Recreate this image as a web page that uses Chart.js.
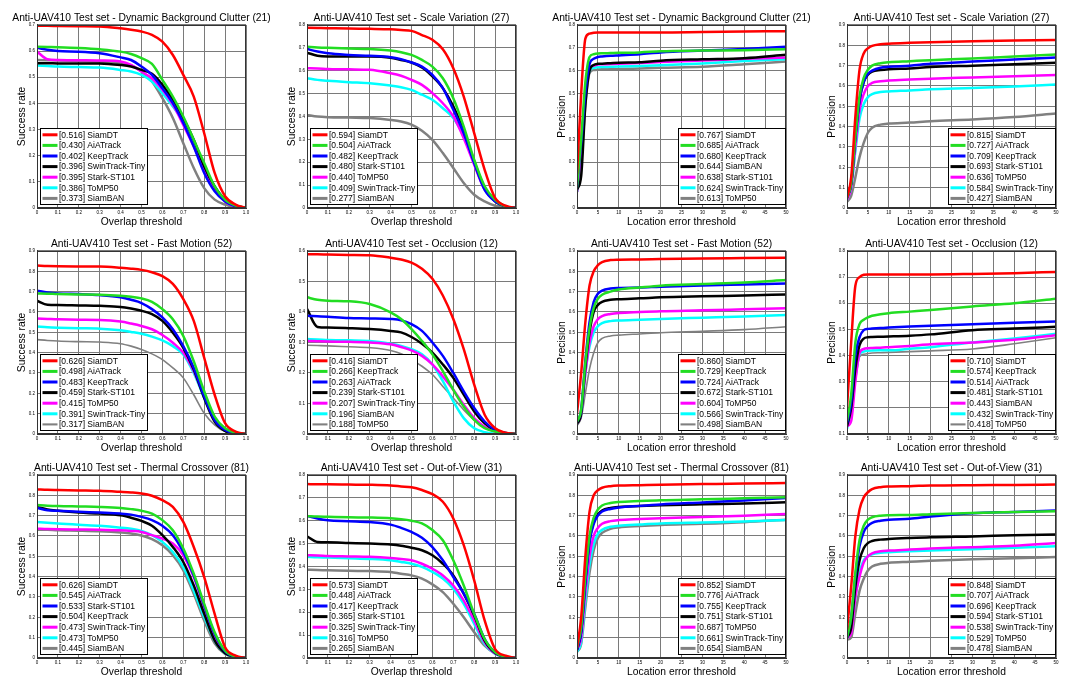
<!DOCTYPE html>
<html>
<head>
<meta charset="utf-8">
<script src="https://cdn.jsdelivr.net/npm/chart.js@4.4.0/dist/chart.umd.min.js"></script>
<style>
  html, body { margin: 0; padding: 0; background: #fff; }
  #grid { position: relative; width: 1080px; height: 694px; overflow: hidden; }
  .panel { position: absolute; width: 290px; height: 230px; }
</style>
</head>
<body>
<div id="grid"></div>
<script>
////////// Data

// x thresholds
const overlapX = [0, 0.05, 0.1, 0.2, 0.3, 0.4, 0.45, 0.5, 0.55, 0.6, 0.65, 0.7, 0.75, 0.8, 0.85, 0.9, 0.95, 1];
const errorX = [0, 1, 2, 3, 4, 5, 6, 8, 10, 15, 20, 30, 40, 50];

// Dynamic Background Clutter - success
const dbcSucNames = ["SiamDT", "AiATrack", "KeepTrack", "SwinTrack-Tiny", "Stark-ST101", "ToMP50", "SiamBAN"];
const dbcSucScores = [0.516, 0.430, 0.402, 0.396, 0.395, 0.386, 0.373];
const dbcSucCurves = [
  [0.697, 0.697, 0.696, 0.695, 0.694, 0.687, 0.682, 0.675, 0.662, 0.636, 0.585, 0.509, 0.426, 0.286, 0.134, 0.045, 0.013, 0],
  [0.617, 0.616, 0.615, 0.612, 0.607, 0.598, 0.589, 0.573, 0.551, 0.49, 0.426, 0.35, 0.261, 0.172, 0.083, 0.032, 0.009, 0],
  [0.613, 0.605, 0.6, 0.598, 0.592, 0.576, 0.566, 0.541, 0.509, 0.458, 0.401, 0.325, 0.235, 0.134, 0.064, 0.025, 0.006, 0],
  [0.554, 0.554, 0.553, 0.553, 0.553, 0.547, 0.541, 0.528, 0.513, 0.471, 0.414, 0.344, 0.261, 0.159, 0.083, 0.032, 0.009, 0],
  [0.598, 0.569, 0.566, 0.565, 0.564, 0.56, 0.547, 0.522, 0.496, 0.452, 0.395, 0.318, 0.235, 0.146, 0.076, 0.025, 0.006, 0],
  [0.545, 0.543, 0.541, 0.539, 0.537, 0.528, 0.522, 0.509, 0.484, 0.439, 0.388, 0.331, 0.248, 0.159, 0.083, 0.032, 0.009, 0],
  [0.566, 0.565, 0.564, 0.562, 0.56, 0.554, 0.545, 0.522, 0.484, 0.42, 0.344, 0.248, 0.153, 0.076, 0.032, 0.013, 0.004, 0],
];

// Scale Variation - success
const svSucNames = ["SiamDT", "AiATrack", "KeepTrack", "Stark-ST101", "ToMP50", "SwinTrack-Tiny", "SiamBAN"];
const svSucScores = [0.594, 0.504, 0.482, 0.480, 0.440, 0.409, 0.277];
const svSucCurves = [
  [0.788, 0.787, 0.786, 0.784, 0.783, 0.781, 0.778, 0.774, 0.756, 0.735, 0.694, 0.611, 0.487, 0.327, 0.167, 0.044, 0.01, 0],
  [0.705, 0.702, 0.7, 0.697, 0.695, 0.688, 0.681, 0.669, 0.647, 0.618, 0.567, 0.48, 0.356, 0.211, 0.095, 0.036, 0.007, 0],
  [0.695, 0.684, 0.676, 0.669, 0.665, 0.659, 0.65, 0.636, 0.618, 0.582, 0.524, 0.429, 0.327, 0.196, 0.08, 0.029, 0.007, 0],
  [0.679, 0.665, 0.662, 0.662, 0.662, 0.657, 0.647, 0.636, 0.614, 0.575, 0.524, 0.444, 0.335, 0.204, 0.087, 0.029, 0.007, 0],
  [0.611, 0.61, 0.608, 0.606, 0.604, 0.589, 0.578, 0.56, 0.538, 0.502, 0.458, 0.4, 0.305, 0.189, 0.08, 0.029, 0.007, 0],
  [0.567, 0.56, 0.556, 0.55, 0.545, 0.535, 0.528, 0.516, 0.495, 0.473, 0.436, 0.393, 0.313, 0.196, 0.08, 0.029, 0.007, 0],
  [0.407, 0.4, 0.397, 0.395, 0.393, 0.385, 0.378, 0.364, 0.338, 0.298, 0.24, 0.175, 0.109, 0.058, 0.029, 0.01, 0.004, 0],
];

// Dynamic Background Clutter - precision
const dbcPreNames = ["SiamDT", "AiATrack", "KeepTrack", "SiamBAN", "Stark-ST101", "SwinTrack-Tiny", "ToMP50"];
const dbcPreScores = [0.767, 0.685, 0.680, 0.644, 0.638, 0.624, 0.613];
const dbcPreCurves = [
  [0.15, 0.5, 0.74, 0.762, 0.766, 0.767, 0.767, 0.767, 0.767, 0.767, 0.767, 0.769, 0.771, 0.773],
  [0.09, 0.3, 0.55, 0.66, 0.672, 0.675, 0.676, 0.677, 0.678, 0.68, 0.685, 0.688, 0.69, 0.694],
  [0.09, 0.28, 0.5, 0.63, 0.652, 0.66, 0.662, 0.665, 0.667, 0.672, 0.68, 0.688, 0.695, 0.705],
  [0.08, 0.14, 0.45, 0.6, 0.625, 0.63, 0.631, 0.633, 0.635, 0.637, 0.644, 0.65, 0.655, 0.67],
  [0.07, 0.25, 0.5, 0.61, 0.622, 0.627, 0.628, 0.629, 0.63, 0.634, 0.638, 0.645, 0.652, 0.658],
  [0.07, 0.25, 0.5, 0.6, 0.612, 0.615, 0.616, 0.617, 0.618, 0.621, 0.624, 0.632, 0.642, 0.65],
  [0.07, 0.2, 0.45, 0.59, 0.603, 0.605, 0.606, 0.606, 0.607, 0.61, 0.613, 0.617, 0.628, 0.64],
];

// Scale Variation - precision
const svPreNames = ["SiamDT", "AiATrack", "KeepTrack", "Stark-ST101", "ToMP50", "SwinTrack-Tiny", "SiamBAN"];
const svPreScores = [0.815, 0.727, 0.709, 0.693, 0.636, 0.584, 0.427];
const svPreCurves = [
  [0.05, 0.15, 0.45, 0.68, 0.76, 0.785, 0.797, 0.805, 0.808, 0.812, 0.815, 0.82, 0.823, 0.826],
  [0.05, 0.12, 0.35, 0.55, 0.64, 0.68, 0.7, 0.712, 0.717, 0.722, 0.727, 0.735, 0.745, 0.755],
  [0.05, 0.12, 0.35, 0.53, 0.62, 0.66, 0.675, 0.69, 0.694, 0.7, 0.709, 0.72, 0.73, 0.74],
  [0.05, 0.12, 0.35, 0.53, 0.62, 0.655, 0.67, 0.678, 0.682, 0.686, 0.693, 0.7, 0.707, 0.714],
  [0.04, 0.1, 0.3, 0.48, 0.56, 0.6, 0.615, 0.623, 0.627, 0.632, 0.636, 0.642, 0.648, 0.654],
  [0.04, 0.1, 0.28, 0.44, 0.51, 0.545, 0.56, 0.57, 0.573, 0.578, 0.584, 0.59, 0.598, 0.607],
  [0.03, 0.06, 0.15, 0.25, 0.32, 0.37, 0.395, 0.41, 0.415, 0.42, 0.427, 0.435, 0.447, 0.465],
];

// Fast Motion - success
const fmSucNames = ["SiamDT", "AiATrack", "KeepTrack", "Stark-ST101", "ToMP50", "SwinTrack-Tiny", "SiamBAN"];
const fmSucScores = [0.626, 0.498, 0.483, 0.459, 0.415, 0.391, 0.317];
const fmSucCurves = [
  [0.828, 0.826, 0.825, 0.824, 0.823, 0.817, 0.813, 0.807, 0.795, 0.776, 0.738, 0.663, 0.556, 0.375, 0.193, 0.053, 0.012, 0],
  [0.691, 0.69, 0.688, 0.686, 0.685, 0.68, 0.675, 0.667, 0.65, 0.614, 0.564, 0.482, 0.358, 0.21, 0.086, 0.028, 0.007, 0],
  [0.705, 0.696, 0.691, 0.688, 0.683, 0.672, 0.66, 0.644, 0.614, 0.573, 0.515, 0.432, 0.325, 0.185, 0.069, 0.02, 0.003, 0],
  [0.655, 0.635, 0.634, 0.632, 0.63, 0.625, 0.617, 0.606, 0.589, 0.556, 0.498, 0.424, 0.317, 0.177, 0.061, 0.015, 0.003, 0],
  [0.568, 0.566, 0.564, 0.562, 0.561, 0.553, 0.543, 0.531, 0.515, 0.487, 0.449, 0.399, 0.309, 0.185, 0.078, 0.02, 0.003, 0],
  [0.528, 0.525, 0.523, 0.52, 0.518, 0.51, 0.502, 0.493, 0.479, 0.46, 0.432, 0.391, 0.3, 0.177, 0.069, 0.017, 0.003, 0],
  [0.464, 0.46, 0.457, 0.454, 0.452, 0.444, 0.432, 0.416, 0.394, 0.366, 0.325, 0.276, 0.193, 0.102, 0.045, 0.012, 0.003, 0],
];

// Occlusion - success
const occSucNames = ["SiamDT", "KeepTrack", "AiATrack", "Stark-ST101", "SwinTrack-Tiny", "SiamBAN", "ToMP50"];
const occSucScores = [0.416, 0.266, 0.263, 0.239, 0.207, 0.196, 0.188];
const occSucCurves = [
  [0.589, 0.589, 0.588, 0.587, 0.586, 0.578, 0.572, 0.562, 0.542, 0.509, 0.454, 0.377, 0.278, 0.162, 0.063, 0.019, 0.004, 0],
  [0.448, 0.44, 0.437, 0.435, 0.426, 0.399, 0.377, 0.344, 0.305, 0.261, 0.206, 0.145, 0.09, 0.046, 0.019, 0.008, 0.002, 0],
  [0.388, 0.386, 0.384, 0.38, 0.379, 0.377, 0.373, 0.36, 0.338, 0.3, 0.256, 0.2, 0.14, 0.085, 0.041, 0.013, 0.003, 0],
  [0.41, 0.351, 0.349, 0.347, 0.344, 0.338, 0.333, 0.318, 0.296, 0.267, 0.228, 0.184, 0.129, 0.074, 0.035, 0.013, 0.003, 0],
  [0.305, 0.304, 0.303, 0.302, 0.3, 0.294, 0.285, 0.274, 0.256, 0.228, 0.189, 0.145, 0.096, 0.052, 0.024, 0.008, 0.002, 0],
  [0.311, 0.31, 0.308, 0.307, 0.305, 0.296, 0.289, 0.278, 0.261, 0.228, 0.173, 0.107, 0.052, 0.019, 0.006, 0.001, 0, 0],
  [0.291, 0.29, 0.289, 0.286, 0.283, 0.274, 0.263, 0.244, 0.222, 0.195, 0.156, 0.118, 0.079, 0.046, 0.024, 0.01, 0.003, 0],
];

// Fast Motion - precision
const fmPreNames = ["SiamDT", "KeepTrack", "AiATrack", "Stark-ST101", "ToMP50", "SwinTrack-Tiny", "SiamBAN"];
const fmPreScores = [0.860, 0.729, 0.724, 0.672, 0.604, 0.566, 0.498];
const fmPreCurves = [
  [0.1, 0.3, 0.55, 0.73, 0.8, 0.83, 0.845, 0.855, 0.857, 0.858, 0.86, 0.863, 0.865, 0.867],
  [0.06, 0.12, 0.35, 0.52, 0.62, 0.665, 0.685, 0.7, 0.71, 0.72, 0.729, 0.737, 0.745, 0.757],
  [0.06, 0.12, 0.36, 0.55, 0.65, 0.69, 0.705, 0.715, 0.718, 0.72, 0.724, 0.73, 0.735, 0.74],
  [0.05, 0.1, 0.33, 0.5, 0.6, 0.635, 0.65, 0.66, 0.663, 0.667, 0.672, 0.677, 0.681, 0.686],
  [0.05, 0.1, 0.3, 0.45, 0.53, 0.565, 0.58, 0.59, 0.595, 0.6, 0.604, 0.608, 0.613, 0.618],
  [0.05, 0.1, 0.3, 0.43, 0.5, 0.53, 0.545, 0.555, 0.558, 0.562, 0.566, 0.572, 0.578, 0.585],
  [0.04, 0.08, 0.2, 0.32, 0.4, 0.45, 0.47, 0.482, 0.486, 0.492, 0.498, 0.505, 0.513, 0.527],
];

// Occlusion - precision
const occPreNames = ["SiamDT", "KeepTrack", "AiATrack", "Stark-ST101", "SiamBAN", "SwinTrack-Tiny", "ToMP50"];
const occPreScores = [0.710, 0.574, 0.514, 0.481, 0.443, 0.432, 0.418];
const occPreCurves = [
  [0.2, 0.45, 0.667, 0.7, 0.709, 0.71, 0.71, 0.71, 0.71, 0.71, 0.71, 0.712, 0.715, 0.72],
  [0.15, 0.25, 0.45, 0.52, 0.537, 0.546, 0.552, 0.558, 0.562, 0.568, 0.574, 0.588, 0.6, 0.617],
  [0.14, 0.22, 0.4, 0.47, 0.497, 0.502, 0.503, 0.505, 0.507, 0.511, 0.514, 0.52, 0.525, 0.53],
  [0.13, 0.2, 0.35, 0.44, 0.465, 0.47, 0.471, 0.472, 0.473, 0.476, 0.481, 0.497, 0.503, 0.51],
  [0.13, 0.15, 0.3, 0.41, 0.425, 0.428, 0.429, 0.43, 0.432, 0.437, 0.443, 0.45, 0.46, 0.478],
  [0.12, 0.2, 0.32, 0.405, 0.415, 0.418, 0.419, 0.42, 0.42, 0.426, 0.432, 0.45, 0.465, 0.483],
  [0.13, 0.18, 0.3, 0.395, 0.405, 0.408, 0.41, 0.411, 0.412, 0.415, 0.418, 0.425, 0.445, 0.468],
];

// Thermal Crossover - success
const tcSucNames = ["SiamDT", "AiATrack", "Stark-ST101", "KeepTrack", "SwinTrack-Tiny", "ToMP50", "SiamBAN"];
const tcSucScores = [0.626, 0.545, 0.533, 0.504, 0.473, 0.473, 0.445];
const tcSucCurves = [
  [0.829, 0.827, 0.826, 0.824, 0.822, 0.817, 0.814, 0.809, 0.798, 0.776, 0.743, 0.669, 0.546, 0.398, 0.217, 0.053, 0.012, 0],
  [0.752, 0.749, 0.747, 0.745, 0.743, 0.738, 0.732, 0.724, 0.71, 0.678, 0.628, 0.538, 0.414, 0.266, 0.126, 0.036, 0.007, 0],
  [0.738, 0.727, 0.724, 0.719, 0.715, 0.71, 0.705, 0.694, 0.678, 0.65, 0.604, 0.521, 0.406, 0.258, 0.118, 0.033, 0.007, 0],
  [0.743, 0.73, 0.724, 0.715, 0.71, 0.702, 0.69, 0.674, 0.65, 0.604, 0.546, 0.472, 0.357, 0.217, 0.086, 0.023, 0.005, 0],
  [0.636, 0.634, 0.633, 0.632, 0.631, 0.628, 0.625, 0.62, 0.604, 0.587, 0.563, 0.505, 0.398, 0.25, 0.11, 0.033, 0.007, 0],
  [0.669, 0.665, 0.661, 0.655, 0.65, 0.641, 0.635, 0.625, 0.604, 0.571, 0.521, 0.447, 0.332, 0.201, 0.086, 0.023, 0.005, 0],
  [0.631, 0.63, 0.628, 0.626, 0.623, 0.617, 0.612, 0.602, 0.584, 0.554, 0.505, 0.431, 0.316, 0.184, 0.072, 0.02, 0.005, 0],
];

// Out-of-View - success
const ovSucNames = ["SiamDT", "AiATrack", "KeepTrack", "Stark-ST101", "SwinTrack-Tiny", "ToMP50", "SiamBAN"];
const ovSucScores = [0.573, 0.448, 0.417, 0.365, 0.325, 0.316, 0.265];
const ovSucCurves = [
  [0.76, 0.759, 0.759, 0.758, 0.757, 0.754, 0.75, 0.746, 0.734, 0.716, 0.683, 0.61, 0.493, 0.339, 0.164, 0.039, 0.01, 0],
  [0.62, 0.618, 0.617, 0.615, 0.614, 0.611, 0.607, 0.6, 0.588, 0.559, 0.515, 0.427, 0.317, 0.193, 0.083, 0.025, 0.006, 0],
  [0.621, 0.61, 0.602, 0.598, 0.594, 0.583, 0.569, 0.551, 0.526, 0.485, 0.427, 0.354, 0.281, 0.193, 0.083, 0.025, 0.006, 0],
  [0.532, 0.507, 0.506, 0.503, 0.5, 0.496, 0.491, 0.482, 0.471, 0.449, 0.412, 0.361, 0.281, 0.186, 0.076, 0.022, 0.006, 0],
  [0.449, 0.448, 0.446, 0.444, 0.442, 0.437, 0.433, 0.427, 0.412, 0.39, 0.361, 0.317, 0.251, 0.164, 0.069, 0.02, 0.006, 0],
  [0.442, 0.44, 0.439, 0.436, 0.433, 0.427, 0.42, 0.412, 0.398, 0.376, 0.347, 0.303, 0.237, 0.149, 0.061, 0.018, 0.006, 0],
  [0.386, 0.385, 0.383, 0.381, 0.38, 0.376, 0.368, 0.361, 0.347, 0.322, 0.288, 0.237, 0.178, 0.113, 0.054, 0.02, 0.006, 0],
];

// Thermal Crossover - precision
const tcPreNames = ["SiamDT", "AiATrack", "KeepTrack", "Stark-ST101", "ToMP50", "SwinTrack-Tiny", "SiamBAN"];
const tcPreScores = [0.852, 0.776, 0.755, 0.751, 0.687, 0.661, 0.654];
const tcPreCurves = [
  [0.05, 0.2, 0.5, 0.72, 0.8, 0.825, 0.837, 0.845, 0.848, 0.85, 0.852, 0.855, 0.858, 0.86],
  [0.05, 0.15, 0.4, 0.6, 0.69, 0.73, 0.75, 0.762, 0.767, 0.772, 0.776, 0.78, 0.785, 0.79],
  [0.04, 0.13, 0.37, 0.57, 0.66, 0.7, 0.72, 0.733, 0.74, 0.748, 0.755, 0.765, 0.775, 0.787],
  [0.04, 0.13, 0.38, 0.58, 0.67, 0.705, 0.725, 0.738, 0.743, 0.747, 0.751, 0.756, 0.76, 0.766],
  [0.04, 0.1, 0.32, 0.5, 0.6, 0.64, 0.66, 0.673, 0.678, 0.683, 0.687, 0.693, 0.7, 0.708],
  [0.03, 0.08, 0.28, 0.46, 0.56, 0.61, 0.63, 0.645, 0.65, 0.656, 0.661, 0.666, 0.671, 0.678],
  [0.03, 0.07, 0.25, 0.42, 0.53, 0.59, 0.615, 0.635, 0.642, 0.649, 0.654, 0.66, 0.668, 0.68],
];

// Out-of-View - precision
const ovPreNames = ["SiamDT", "AiATrack", "KeepTrack", "Stark-ST101", "SwinTrack-Tiny", "ToMP50", "SiamBAN"];
const ovPreScores = [0.848, 0.707, 0.696, 0.594, 0.538, 0.529, 0.478];
const ovPreCurves = [
  [0.14, 0.35, 0.6, 0.73, 0.79, 0.815, 0.83, 0.84, 0.843, 0.845, 0.848, 0.85, 0.851, 0.853],
  [0.1, 0.2, 0.42, 0.58, 0.65, 0.68, 0.692, 0.7, 0.702, 0.703, 0.707, 0.713, 0.718, 0.722],
  [0.1, 0.2, 0.4, 0.55, 0.62, 0.65, 0.665, 0.675, 0.68, 0.685, 0.696, 0.712, 0.718, 0.725],
  [0.1, 0.15, 0.35, 0.48, 0.54, 0.565, 0.575, 0.582, 0.585, 0.59, 0.594, 0.598, 0.603, 0.607],
  [0.1, 0.12, 0.3, 0.4, 0.47, 0.5, 0.515, 0.525, 0.528, 0.533, 0.538, 0.545, 0.552, 0.565],
  [0.1, 0.13, 0.3, 0.42, 0.48, 0.5, 0.51, 0.517, 0.52, 0.525, 0.529, 0.535, 0.542, 0.55],
  [0.09, 0.1, 0.22, 0.33, 0.39, 0.43, 0.45, 0.463, 0.468, 0.473, 0.478, 0.485, 0.49, 0.497],
];

// panel titles and y ranges, in reading order
const panelTitles = [
  "Anti-UAV410 Test set - Dynamic Background Clutter (21)",
  "Anti-UAV410 Test set - Scale Variation (27)",
  "Anti-UAV410 Test set - Dynamic Background Clutter (21)",
  "Anti-UAV410 Test set - Scale Variation (27)",
  "Anti-UAV410 Test set - Fast Motion (52)",
  "Anti-UAV410 Test set - Occlusion (12)",
  "Anti-UAV410 Test set - Fast Motion (52)",
  "Anti-UAV410 Test set - Occlusion (12)",
  "Anti-UAV410 Test set - Thermal Crossover (81)",
  "Anti-UAV410 Test set - Out-of-View (31)",
  "Anti-UAV410 Test set - Thermal Crossover (81)",
  "Anti-UAV410 Test set - Out-of-View (31)",
];
const panelYMin = [0, 0, 0, 0, 0, 0, 0, 0.1, 0, 0, 0, 0];
const panelYMax = [0.7, 0.8, 0.8, 0.9, 0.9, 0.6, 0.9, 0.8, 0.9, 0.8, 0.9, 0.9];

const panelData = [
  [dbcSucNames, dbcSucScores, dbcSucCurves],
  [svSucNames, svSucScores, svSucCurves],
  [dbcPreNames, dbcPreScores, dbcPreCurves],
  [svPreNames, svPreScores, svPreCurves],
  [fmSucNames, fmSucScores, fmSucCurves],
  [occSucNames, occSucScores, occSucCurves],
  [fmPreNames, fmPreScores, fmPreCurves],
  [occPreNames, occPreScores, occPreCurves],
  [tcSucNames, tcSucScores, tcSucCurves],
  [ovSucNames, ovSucScores, ovSucCurves],
  [tcPreNames, tcPreScores, tcPreCurves],
  [ovPreNames, ovPreScores, ovPreCurves],
];

////////// Style

const FONT = "'Liberation Sans', Arial, sans-serif";
const rankColors = ["#ff0000", "#22dd22", "#0000ff", "#000000", "#ff00ff", "#00ffff", "#808080"];
const rowTops = [0, 226, 450];

// boxed legend + plot frame, drawn inside the chart area
const boxLegend = {
  id: "boxLegend",
  afterDatasetsDraw(chart, args, opts) {
    const { ctx, chartArea: a } = chart;
    ctx.save();
    ctx.strokeStyle = "#333";
    ctx.lineWidth = 1;
    ctx.strokeRect(Math.round(a.left) + 0.5, Math.round(a.top) + 0.5,
      Math.round(a.right - a.left) - 1, Math.round(a.bottom - a.top) - 1);

    ctx.font = `8.5px ${FONT}`;
    const rows = chart.data.datasets;
    const rowH = 10.6;
    const textW = Math.max(...rows.map((d) => ctx.measureText(d.label).width));
    const w = Math.round(18.5 + textW + 2);
    const h = Math.round(rows.length * rowH + 2);
    const x0 = Math.round(opts.corner === "left" ? a.left + 3 : a.right - 1 - w) + 0.5;
    const y0 = Math.round(a.bottom - 4 - h) + 0.5;
    ctx.fillStyle = "#fff";
    ctx.fillRect(x0, y0, w, h);
    ctx.strokeStyle = "#000";
    ctx.strokeRect(x0, y0, w, h);
    ctx.textBaseline = "middle";
    rows.forEach((d, i) => {
      const cy = y0 + 1 + rowH * (i + 0.5);
      ctx.strokeStyle = d.borderColor;
      ctx.lineWidth = d.borderWidth + 0.5;
      ctx.beginPath();
      ctx.moveTo(x0 + 2, cy);
      ctx.lineTo(x0 + 17, cy);
      ctx.stroke();
      ctx.fillStyle = "#000";
      ctx.fillText(d.label, x0 + 18.5, cy + 0.5);
    });
    ctx.restore();
  },
};

////////// Charts

const grid = document.getElementById("grid");

panelData.forEach(([names, scores, curves], i) => {
  const row = Math.floor(i / 4);
  const col = i % 4;
  const isSuccess = col < 2;
  const xs = isSuccess ? overlapX : errorX;

  // canvases are 20px wider than a cell so long titles keep their width
  const box = document.createElement("div");
  box.className = "panel";
  box.style.left = col * 270 - 10 + "px";
  box.style.top = rowTops[row] + "px";
  const canvas = document.createElement("canvas");
  canvas.width = 290;
  canvas.height = 230;
  box.appendChild(canvas);
  grid.appendChild(box);

  const datasets = names.map((name, k) => ({
    label: `[${scores[k].toFixed(3)}] ${name}`,
    data: xs.map((x, j) => ({ x, y: curves[k][j] })),
    borderColor: rankColors[k],
    backgroundColor: rankColors[k],
    // the middle row draws its last (gray) curve with a thinner pen
    borderWidth: row === 1 && k === 6 ? 1.6 : 2.5,
    fill: false,
    pointRadius: 0,
    cubicInterpolationMode: "monotone",
  }));

  new Chart(canvas.getContext("2d"), {
    type: "line",
    data: { datasets },
    options: {
      responsive: false,
      animation: false,
      devicePixelRatio: 1,
      layout: { padding: { left: 13, right: 0, top: 0, bottom: 0 } },
      plugins: {
        legend: { display: false },
        tooltip: { enabled: false },
        title: {
          display: true,
          text: panelTitles[i],
          color: "#000",
          font: { family: FONT, size: 10.3, weight: "normal" },
          padding: { top: 12, bottom: 0.6 },
        },
        boxLegend: { corner: isSuccess ? "left" : "right" },
      },
      scales: {
        x: {
          type: "linear",
          min: 0,
          max: isSuccess ? 1 : 50,
          ticks: {
            stepSize: isSuccess ? 0.1 : 5,
            color: "#000",
            font: { family: FONT, size: 4.5 },
            padding: 2,
            maxRotation: 0,
            autoSkip: false,
          },
          grid: { color: "#7a7a7a", drawTicks: false },
          border: { color: "#333" },
          title: {
            display: true,
            text: isSuccess ? "Overlap threshold" : "Location error threshold",
            color: "#000",
            font: { family: FONT, size: 10.3 },
            padding: { top: 0, bottom: 1.5 },
          },
          afterFit: (s) => { s.height = 22; },
        },
        y: {
          type: "linear",
          min: panelYMin[i],
          max: panelYMax[i],
          ticks: {
            stepSize: 0.1,
            color: "#000",
            font: { family: FONT, size: 4.5 },
            padding: 2,
            autoSkip: false,
          },
          grid: { color: "#7a7a7a", drawTicks: false },
          border: { color: "#333" },
          title: {
            display: true,
            text: isSuccess ? "Success rate" : "Precision",
            color: "#000",
            font: { family: FONT, size: 10.3 },
            padding: { top: 12.8, bottom: 0 },
          },
          afterFit: (s) => { s.width = 34; },
        },
        // empty right-hand spacer that keeps the plot area in place
        yr: {
          type: "linear",
          position: "right",
          display: true,
          ticks: { display: false },
          grid: { display: false, drawTicks: false },
          border: { display: false },
          afterFit: (s) => { s.width = 34; },
        },
      },
    },
    plugins: [boxLegend],
  });
});
</script>
</body>
</html>
